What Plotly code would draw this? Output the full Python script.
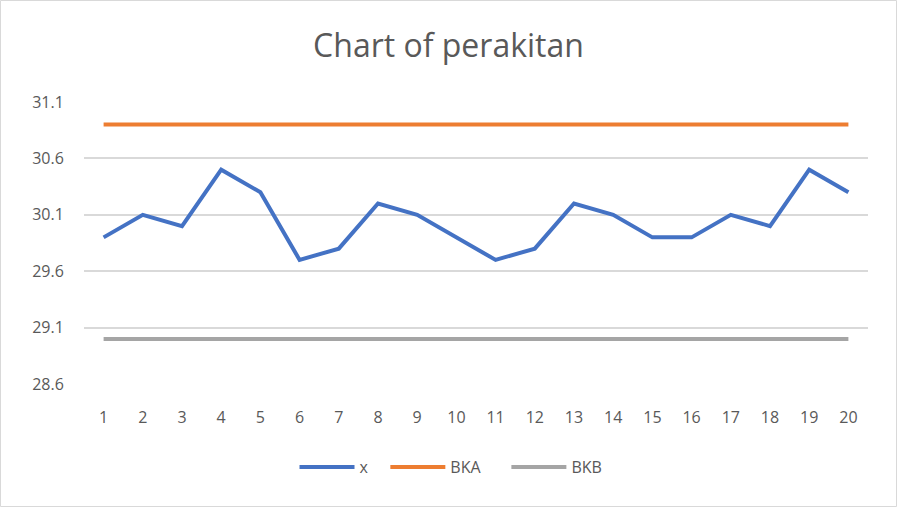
import plotly.graph_objects as go

categories = list(range(1, 21))
x_values = [29.9, 30.1, 30.0, 30.5, 30.3, 29.7, 29.8, 30.2, 30.1, 29.9,
            29.7, 29.8, 30.2, 30.1, 29.9, 29.9, 30.1, 30.0, 30.5, 30.3]
bka_values = [30.9] * 20
bkb_values = [29.0] * 20
y_ticks = [28.6, 29.1, 29.6, 30.1, 30.6, 31.1]
series_names = ["x", "BKA", "BKB"]

W, H = 897, 507
L, R, T, B = 84, 29, 102, 123
pw, ph = W - L - R, H - T - B

font = "'Open Sans', Lato, sans-serif"
grey = "#595959"
pad = ["\u00a0\u00a0\u00a0", "\u00a0\u00a0\u00a0\u00a0\u00a0", ""]

fig = go.Figure()
fig.add_trace(go.Scatter(x=categories, y=x_values, mode="lines", name=series_names[0] + pad[0],
                         line=dict(color="#4472C4", width=4)))
fig.add_trace(go.Scatter(x=categories, y=bka_values, mode="lines", name=series_names[1] + pad[1],
                         line=dict(color="#ED7D31", width=4)))
fig.add_trace(go.Scatter(x=categories, y=bkb_values, mode="lines", name=series_names[2] + pad[2],
                         line=dict(color="#A5A5A5", width=4)))

fig.update_layout(
    width=W, height=H,
    margin=dict(l=L, r=R, t=T, b=B),
    paper_bgcolor="white", plot_bgcolor="white",
    title=dict(text="Chart of perakitan", x=0.5, xanchor="center",
               y=1 - 46 / H, yanchor="middle",
               font=dict(family=font, size=32, color=grey)),
    font=dict(family=font, color=grey, size=16),
    showlegend=True,
    legend=dict(orientation="h", x=(451 - L) / pw, xanchor="center",
                y=-(467 - (T + ph)) / ph, yanchor="middle",
                font=dict(size=16, color=grey), itemwidth=55),
    xaxis=dict(range=[0.5, 20.5], tickmode="array", tickvals=categories,
               ticktext=[str(c) for c in categories],
               showgrid=False, zeroline=False, showline=False,
               ticks="outside", ticklen=19, tickcolor="rgba(0,0,0,0)",
               tickfont=dict(size=16, color=grey)),
    yaxis=dict(range=[28.6, 31.1], tickmode="array", tickvals=y_ticks,
               ticktext=[f"{v:.1f}" for v in y_ticks],
               showgrid=True, gridcolor="#D9D9D9", gridwidth=1.5,
               zeroline=False, showline=False,
               ticks="outside", ticklen=16, tickcolor="rgba(0,0,0,0)",
               tickfont=dict(size=16, color=grey)),
    shapes=[dict(type="rect", xref="paper", yref="paper",
                 x0=(0.5 - L) / pw, x1=(W - 0.5 - L) / pw,
                 y0=-(H - 0.5 - T - ph) / ph, y1=(ph + T - 0.5) / ph,
                 line=dict(color="#D9D9D9", width=1), layer="below")],
)

fig.write_html("out.html", config={"displayModeBar": False},
               post_script="document.body.style.margin='0';document.body.style.overflow='hidden';")
